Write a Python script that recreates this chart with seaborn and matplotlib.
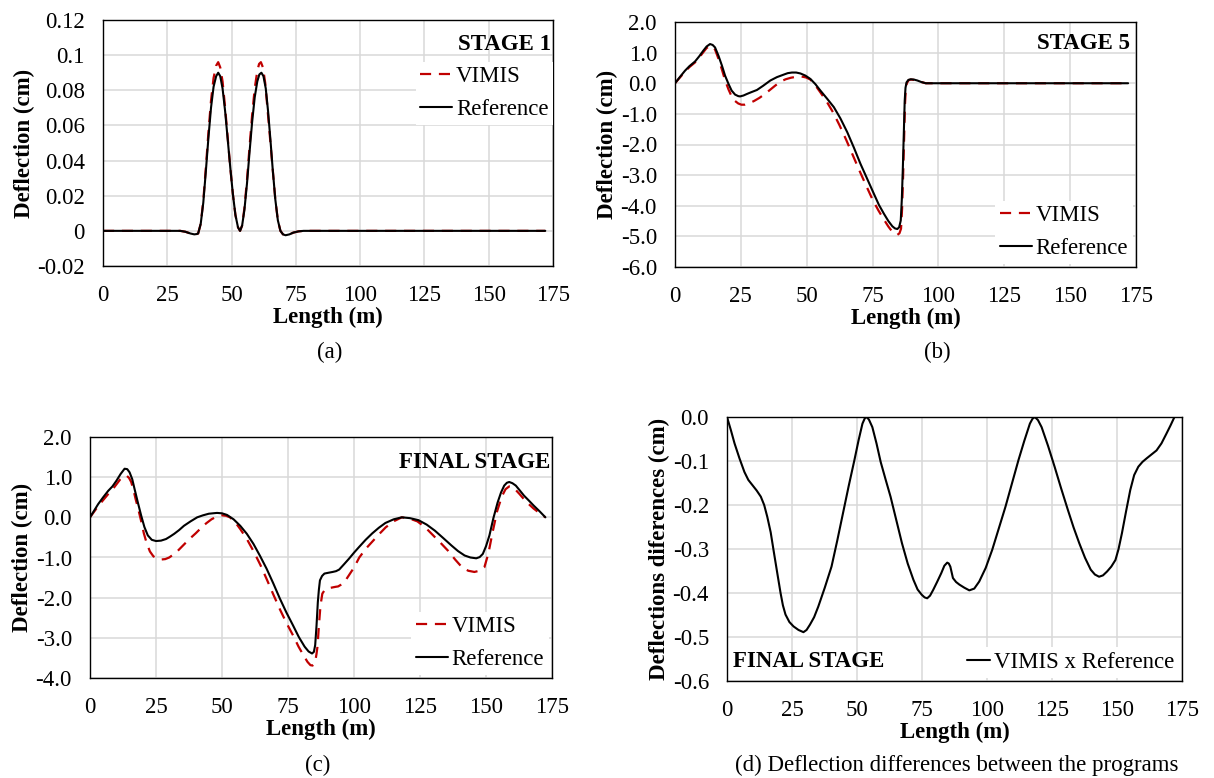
import numpy as np
import pandas as pd
import matplotlib
matplotlib.use("Agg")
import matplotlib.pyplot as plt
import seaborn as sns

# data (x in m, deflection in cm)

# (a) stage 1
a_ref_x = [0, 30, 32, 34, 35.5, 36.5, 37, 38, 39, 40, 41, 42, 43, 44, 44.8, 45.6, 46.5, 47.5, 48.5,
           49.5, 50.5, 51.5, 52.5, 53.3, 54.1, 55, 56, 57, 58, 59, 60, 60.8, 61.6, 62.4, 63.3, 64.2,
           65.1, 66, 67, 68, 69, 70, 71, 72.5, 74, 76, 78, 172]
a_ref_y = [0, 0, -0.0005, -0.0015, -0.002, -0.0018, -0.0015, 0.004, 0.016, 0.034, 0.053, 0.07,
           0.082, 0.088, 0.09, 0.088, 0.081, 0.068, 0.052, 0.036, 0.021, 0.009, 0.002, 0.0, 0.003,
           0.012, 0.027, 0.045, 0.062, 0.076, 0.085, 0.089, 0.09, 0.088, 0.081, 0.068, 0.052, 0.035,
           0.018, 0.006, 0.0, -0.002, -0.0025, -0.002, -0.001, -0.0003, 0, 0]
a_vim_x = [0, 30, 32, 34, 35.5, 36.5, 37, 38, 39, 40, 41, 42, 43, 44, 44.8, 45.6, 46.5, 47.5, 48.5,
           49.5, 50.5, 51.5, 52.5, 53.3, 54.1, 55, 56, 57, 58, 59, 60, 60.7, 61.4, 62.2, 63.1, 64.0,
           65.0, 66, 67, 68, 69, 70, 71, 72.5, 74, 76, 78, 172]
a_vim_y = [0, 0, -0.0005, -0.0015, -0.002, -0.0018, -0.0015, 0.004, 0.017, 0.036, 0.056, 0.074,
           0.087, 0.094, 0.096, 0.093, 0.085, 0.07, 0.053, 0.036, 0.021, 0.009, 0.002, 0.0, 0.003,
           0.013, 0.029, 0.048, 0.066, 0.081, 0.091, 0.095, 0.096, 0.093, 0.084, 0.069, 0.052,
           0.035, 0.018, 0.006, 0.0, -0.002, -0.0025, -0.002, -0.001, -0.0003, 0, 0]

# (b) stage 5
b_ref_x = [0, 2, 3.8, 5.5, 7.6, 9.2, 10.8, 12, 13.3, 14.3, 15.2, 16.5, 17.8, 19, 20.3, 21.5, 22.8, 24,
           24.7, 26, 27.3, 29, 31.1, 33.5, 36.2, 38.7, 41.2, 42.8, 44.4, 46, 47.6, 49.5, 51.4, 53.3,
           55.2, 57.7, 60.3, 62.8, 65.4, 67.9, 70.4, 73, 75.5, 77.4, 79.3, 81, 82.5, 83.5, 84.4, 85.1,
           85.7, 86.1, 86.5, 86.9, 87.2, 87.5, 87.9, 88.6, 89.5, 90.7, 92, 93.5, 95.2, 172]
b_ref_y = [0, 0.22, 0.41, 0.56, 0.71, 0.88, 1.07, 1.2, 1.28, 1.25, 1.17, 0.9, 0.58, 0.25, -0.02,
           -0.24, -0.37, -0.42, -0.43, -0.4, -0.35, -0.29, -0.22, -0.08, 0.09, 0.2, 0.28, 0.33, 0.35,
           0.35, 0.32, 0.25, 0.14, -0.03, -0.24, -0.5, -0.78, -1.15, -1.6, -2.1, -2.63, -3.13, -3.61,
           -3.97, -4.26, -4.5, -4.67, -4.74, -4.76, -4.7, -4.48, -3.8, -2.74, -1.5, -0.57, -0.15,
           0.03, 0.11, 0.13, 0.12, 0.09, 0.04, 0, 0]
b_vim_x = [0, 2, 3.8, 5.5, 7.6, 9.2, 10.8, 12, 13.3, 14.3, 15.2, 16.5, 17.8, 19, 20.3, 21.5, 22.8, 24,
           25.2, 26.5, 28, 30, 32, 34, 36, 38, 40, 42, 44, 46, 48, 49.7, 51.4, 53.3, 55.2, 57.6, 60,
           62.5, 65, 67.5, 70, 72.5, 75, 77.2, 79.3, 81, 82.5, 83.6, 84.4, 85.2, 85.8, 86.2, 86.6,
           87, 87.3, 87.6, 88, 88.7, 89.5, 90.7, 92, 93.5, 95.2, 172]
b_vim_y = [0, 0.2, 0.38, 0.53, 0.68, 0.84, 1.02, 1.15, 1.22, 1.18, 1.1, 0.8, 0.45, 0.1, -0.2, -0.43,
           -0.58, -0.66, -0.7, -0.7, -0.66, -0.58, -0.48, -0.36, -0.22, -0.08, 0.05, 0.13, 0.18,
           0.21, 0.22, 0.19, 0.12, -0.07, -0.3, -0.6, -0.95, -1.38, -1.85, -2.35, -2.85, -3.33, -3.8,
           -4.15, -4.45, -4.68, -4.85, -4.92, -4.95, -4.9, -4.75, -4.1, -3.0, -1.7, -0.7, -0.2, 0.0,
           0.1, 0.12, 0.11, 0.08, 0.04, 0, 0]

# (c) final stage
c_ref_x = [0, 3.1, 5, 6.9, 8.5, 10, 11.6, 13.1, 14.1, 15, 16, 16.9, 18.2, 19.4, 20.6, 21.9, 23.4, 25,
           26.9, 28.8, 30.3, 31.9, 33.7, 35.6, 38.1, 40.6, 42.8, 45, 46.5, 48.1, 50, 51.9, 54.4, 56.9,
           59.4, 61.9, 64.4, 66.9, 69.4, 71.9, 74.4, 76.9, 79.1, 81.3, 82.8, 84.1, 84.8, 85.3, 85.8,
           86.3, 86.7, 87.1, 87.9, 88.8, 90.3, 91.9, 93.2, 94.4, 96.2, 98.1, 100, 101.9, 104.4, 106.9,
           109.4, 111.9, 115, 118.1, 121.2, 124.4, 127.5, 130.6, 133.7, 136.9, 139.4, 141.9, 144.1,
           146.3, 147.6, 148.8, 150, 151.3, 152.8, 154.4, 155.7, 156.9, 157.9, 158.8, 160, 161.3,
           162.8, 164.4, 166.2, 168.1, 170.3, 172.5]
c_ref_y = [0, 0.33, 0.5, 0.66, 0.77, 0.91, 1.08, 1.21, 1.2, 1.12, 0.95, 0.7, 0.35, 0.04, -0.24,
           -0.45, -0.56, -0.59, -0.58, -0.54, -0.48, -0.41, -0.32, -0.21, -0.1, 0, 0.05, 0.09, 0.1,
           0.11, 0.1, 0.06, -0.05, -0.21, -0.41, -0.66, -0.96, -1.28, -1.64, -2.02, -2.37, -2.69,
           -2.98, -3.22, -3.34, -3.39, -3.35, -3.18, -2.7, -2.11, -1.8, -1.57, -1.46, -1.4, -1.38,
           -1.36, -1.34, -1.3, -1.17, -1.03, -0.88, -0.74, -0.56, -0.4, -0.26, -0.14, -0.05, 0, -0.02,
           -0.07, -0.18, -0.33, -0.51, -0.7, -0.84, -0.95, -1.0, -1.02, -0.99, -0.91, -0.72, -0.45,
           -0.02, 0.37, 0.62, 0.79, 0.86, 0.88, 0.85, 0.79, 0.67, 0.54, 0.42, 0.29, 0.15, 0]
c_vim_x = [0, 3.1, 5, 6.9, 8.5, 10, 11.5, 13, 14, 14.8, 15.6, 16.4, 17.3, 18.3, 19.4, 20.4, 21.5,
           22.7, 24, 25.5, 27, 28.5, 30, 31.5, 33, 34.5, 36, 38, 40, 42, 44, 46, 48, 50, 51.5, 53, 55,
           57, 59.5, 62, 64.5, 67, 69.5, 72, 74.5, 77, 79, 81, 82.4, 83.5, 84.3, 84.8, 85.3, 85.8,
           86.2, 86.7, 87.3, 88, 89, 90, 91.5, 93, 94, 95, 96.5, 98, 100, 102, 104.5, 107, 109.5,
           112, 115, 118.1, 121, 124, 127, 130, 133, 135.6, 138.3, 141, 143.3, 145.6, 147.5, 149.4,
           150.9, 152.5, 154.2, 156, 157.4, 158.8, 160, 161, 162.7, 164.4, 166.2, 168, 170.2, 172.5]
c_vim_y = [0, 0.28, 0.43, 0.58, 0.69, 0.82, 0.95, 1.03, 1.03, 0.98, 0.88, 0.7, 0.45, 0.2, -0.1, -0.4,
           -0.65, -0.85, -0.97, -1.03, -1.05, -1.04, -1.0, -0.93, -0.85, -0.75, -0.65, -0.52, -0.4,
           -0.27, -0.15, -0.05, 0.02, 0.05, 0.04, 0.0, -0.12, -0.3, -0.55, -0.85, -1.18, -1.55, -1.93,
           -2.3, -2.64, -2.95, -3.22, -3.45, -3.6, -3.68, -3.69, -3.66, -3.6, -3.4, -3.2, -2.7, -2.2,
           -1.9, -1.8, -1.77, -1.75, -1.73, -1.72, -1.68, -1.6, -1.45, -1.25, -1.0, -0.78, -0.6,
           -0.42, -0.25, -0.1, 0, -0.03, -0.1, -0.25, -0.45, -0.65, -0.83, -1.05, -1.25, -1.33,
           -1.36, -1.33, -1.24, -0.9, -0.37, 0.15, 0.52, 0.7, 0.77, 0.76, 0.7, 0.58, 0.45, 0.33,
           0.22, 0.11, 0]

# (d) differences
d_x = [0, 1.5, 2.9, 4.8, 6.7, 8.2, 9.8, 11.4, 13.0, 14.3, 15.5, 16.8, 18.1, 19.4, 20.6, 21.5, 22.5,
       24, 25.6, 27.5, 29.4, 30.6, 31.9, 33.5, 35.1, 37.6, 40.2, 42.4, 44.6, 46.8, 49.0, 50.6, 52.1,
       53, 53.7, 54.6, 55.9, 57.5, 59.1, 61, 62.9, 65.1, 67.3, 69.5, 71.7, 73.3, 74.9, 76, 77.0,
       78.1, 79.3, 80.8, 82.4, 83.6, 84.7, 85.3, 85.9, 86.9, 88.1, 89.4, 91.3, 93.2, 95.1, 97.0,
       99.5, 102.0, 104.5, 107.1, 109.6, 112.1, 114.3, 116.5, 117.5, 118.4, 119.6, 121.0, 123.5,
       126.0, 128.5, 131.1, 133.3, 135.5, 137.7, 139.9, 141.5, 143.1, 144.6, 146.2, 147.8, 149.4,
       150.6, 151.9, 153.5, 155.1, 156.6, 158.2, 159.8, 161.4, 163.3, 165.2, 167.1, 169.0, 170.6,
       172.1]
d_y = [0, -0.03, -0.060, -0.094, -0.125, -0.143, -0.155, -0.167, -0.181, -0.2, -0.227, -0.262, -0.310,
       -0.357, -0.400, -0.428, -0.449, -0.466, -0.476, -0.484, -0.489, -0.484, -0.472, -0.455,
       -0.431, -0.388, -0.340, -0.281, -0.219, -0.157, -0.098, -0.053, -0.015, -0.003, 0, -0.006,
       -0.023, -0.06, -0.102, -0.142, -0.181, -0.234, -0.287, -0.333, -0.370, -0.392, -0.404,
       -0.41, -0.412, -0.406, -0.393, -0.375, -0.355, -0.338, -0.331, -0.333, -0.340, -0.366,
       -0.375, -0.381, -0.388, -0.394, -0.39, -0.374, -0.343, -0.302, -0.254, -0.204, -0.151,
       -0.098, -0.055, -0.015, -0.004, 0, -0.007, -0.023, -0.066, -0.113, -0.162, -0.211, -0.251,
       -0.287, -0.320, -0.347, -0.358, -0.363, -0.36, -0.351, -0.34, -0.325, -0.3, -0.264, -0.214,
       -0.166, -0.132, -0.113, -0.102, -0.094, -0.085, -0.076, -0.06, -0.038, -0.019, 0]

x_ticks = [0, 25, 50, 75, 100, 125, 150, 175]

sns.set_theme(style="whitegrid")
plt.rcParams['font.family'] = ['Liberation Serif', 'DejaVu Serif']
plt.rcParams['font.size'] = 16.5
plt.rcParams['text.color'] = 'black'
plt.rcParams['axes.labelcolor'] = 'black'
plt.rcParams['xtick.color'] = 'black'
plt.rcParams['ytick.color'] = 'black'

RED = "#c00000"
FS = 16.5

fig = plt.figure(figsize=(12.14, 7.78), dpi=100)

W, H = 1214, 778
def add_ax(l, r, t, b):
    return fig.add_axes([l / W, 1 - b / H, (r - l) / W, (b - t) / H])

ax_a = add_ax(103, 553, 20, 266)
ax_b = add_ax(675, 1136, 22, 267)
ax_c = add_ax(90, 552, 437, 678)
ax_d = add_ax(727, 1182, 417, 681)


def style_ax(ax, yticks, ylabels, ylim, ylabel):
    ax.set_xlim(0, 175)
    ax.set_xticks(x_ticks)
    ax.set_xticklabels([str(t) for t in x_ticks], fontsize=FS)
    ax.set_ylim(*ylim)
    ax.set_yticks(yticks)
    ax.set_yticklabels(ylabels, fontsize=FS)
    ax.grid(True, color="#d9d9d9", linewidth=1.1)
    ax.tick_params(axis="x", length=0, pad=14)
    ax.tick_params(axis="y", length=0, pad=13)
    for s in ax.spines.values():
        s.set_color("black")
        s.set_linewidth(1.0)
    ax.set_xlabel("Length (m)", fontsize=FS, fontweight="bold", labelpad=0)
    ax.set_ylabel(ylabel, fontsize=FS, fontweight="bold", labelpad=2)


def draw_pair(ax, rx, ry, vx, vy):
    sns.lineplot(x=vx, y=vy, ax=ax, color=RED, linewidth=1.6, linestyle=(0, (5, 3.5)),
                 label="VIMIS", sort=False)
    sns.lineplot(x=rx, y=ry, ax=ax, color="black", linewidth=1.5, label="Reference", sort=False,
                 solid_joinstyle="round")


def legend(ax, handlelength=1.4, **kw):
    leg = ax.legend(fontsize=FS, handlelength=handlelength, handletextpad=0.15, labelspacing=0.5,
                    frameon=True, fancybox=False, framealpha=1, borderpad=0.2, **kw)
    leg.get_frame().set_edgecolor("none")
    leg.get_frame().set_facecolor("white")


# (a)
draw_pair(ax_a, a_ref_x, a_ref_y, a_vim_x, a_vim_y)
style_ax(ax_a, [-0.02, 0, 0.02, 0.04, 0.06, 0.08, 0.1, 0.12],
         ["-0.02", "0", "0.02", "0.04", "0.06", "0.08", "0.1", "0.12"], (-0.02, 0.12),
         "Deflection (cm)")
ax_a.text(0.995, 0.902, "STAGE 1", transform=ax_a.transAxes, ha="right", va="center",
          fontsize=FS, fontweight="bold")
legend(ax_a, loc="upper right", bbox_to_anchor=(1.0, 0.83), borderaxespad=0)

# (b)
draw_pair(ax_b, b_ref_x, b_ref_y, b_vim_x, b_vim_y)
style_ax(ax_b, [-6, -5, -4, -3, -2, -1, 0, 1, 2],
         ["-6.0", "-5.0", "-4.0", "-3.0", "-2.0", "-1.0", "0.0", "1.0", "2.0"], (-6, 2),
         "Deflection (cm)")
ax_b.text(0.987, 0.914, "STAGE 5", transform=ax_b.transAxes, ha="right", va="center",
          fontsize=FS, fontweight="bold")
legend(ax_b, loc="lower right", borderaxespad=0.15)

# (c)
draw_pair(ax_c, c_ref_x, c_ref_y, c_vim_x, c_vim_y)
style_ax(ax_c, [-4, -3, -2, -1, 0, 1, 2],
         ["-4.0", "-3.0", "-2.0", "-1.0", "0.0", "1.0", "2.0"], (-4, 2), "Deflection (cm)")
ax_c.text(0.997, 0.896, "FINAL STAGE", transform=ax_c.transAxes, ha="right", va="center",
          fontsize=FS, fontweight="bold")
legend(ax_c, loc="lower right", borderaxespad=0.15)

# (d)
sns.lineplot(x=d_x, y=d_y, ax=ax_d, color="black", linewidth=1.5, label="VIMIS x Reference",
             sort=False, solid_joinstyle="round")
style_ax(ax_d, [-0.6, -0.5, -0.4, -0.3, -0.2, -0.1, 0.0],
         ["-0.6", "-0.5", "-0.4", "-0.3", "-0.2", "-0.1", "0.0"], (-0.6, 0.0),
         "Deflections diferences (cm)")
ax_d.text(0.013, 0.072, "FINAL STAGE", transform=ax_d.transAxes, ha="left", va="center",
          fontsize=FS, fontweight="bold")
legend(ax_d, loc="lower right", borderaxespad=0.15, handlelength=1.0)

# captions
fig.text(330 / W, 1 - 352 / H, "(a)", ha="center", va="center", fontsize=FS)
fig.text(937 / W, 1 - 352 / H, "(b)", ha="center", va="center", fontsize=FS)
fig.text(318 / W, 1 - 765 / H, "(c)", ha="center", va="center", fontsize=FS)
fig.text(957 / W, 1 - 765 / H, "(d) Deflection differences between the programs", ha="center",
         va="center", fontsize=FS)

fig.savefig("out.png", dpi=100, facecolor="white")
